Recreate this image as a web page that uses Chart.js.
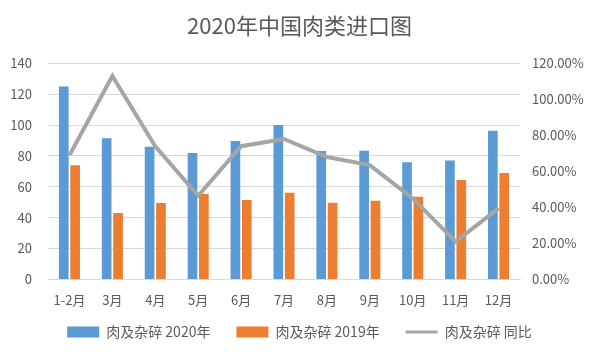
<!DOCTYPE html>
<html><head><meta charset="utf-8">
<script src="https://cdn.jsdelivr.net/npm/chart.js@4/dist/chart.umd.min.js"></script>
<style>html,body{margin:0;padding:0;background:#fff}#wrap{width:599px;height:359px;position:relative}</style>
</head><body><div id="wrap"><canvas id="c" width="599" height="359"></canvas></div>
<script>
const categories = ['1-2月','3月','4月','5月','6月','7月','8月','9月','10月','11月','12月'];
const meat2020 = [125, 91.5, 86, 82, 89.7, 100, 83.2, 83.4, 76, 77, 96.3];
const meat2019 = [74, 43, 49.5, 55.3, 51.4, 56.2, 49.7, 51, 53.6, 64.4, 69];
const yoyPct = [69, 113, 74, 46.5, 74, 78, 68, 63.5, 45, 21, 39.5];
const leftTicks = [0, 20, 40, 60, 80, 100, 120, 140];
const rightTicks = [0, 20, 40, 60, 80, 100, 120];
const legendOrder = ['肉及杂碎 2020年','肉及杂碎 2019年','肉及杂碎 同比'];

const font = "'Noto Sans CJK SC', 'Liberation Sans', sans-serif";
Chart.defaults.font.family = font;
Chart.defaults.color = '#595959';

new Chart(document.getElementById('c'), {
  data: {
    labels: categories,
    datasets: [
      {type:'line', label:'肉及杂碎 同比', data: yoyPct, yAxisID:'y1', borderColor:'#a5a5a5', backgroundColor:'#a5a5a5', borderWidth:4, pointRadius:0, tension:0, order:0},
      {type:'bar', label:'肉及杂碎 2020年', data: meat2020, yAxisID:'y', backgroundColor:'#5b9bd5', categoryPercentage:0.53, barPercentage:0.85, order:1},
      {type:'bar', label:'肉及杂碎 2019年', data: meat2019, yAxisID:'y', backgroundColor:'#ed7d31', categoryPercentage:0.53, barPercentage:0.85, order:2}
    ]
  },
  options: {
    responsive:false, animation:false,
    layout:{padding:{left:0,right:0,top:0,bottom:10}},
    plugins:{
      title:{display:true, text:'2020年中国肉类进口图', font:{size:22, weight:'normal', family:font}, color:'#595959', padding:{top:12,bottom:25}},
      tooltip:{enabled:false},
      legend:{position:'bottom',
        labels:{usePointStyle:true, pointStyleWidth:32, boxHeight:11, padding:12, font:{size:14}, color:'#595959',
          generateLabels:(chart)=>{
            const items = Chart.defaults.plugins.legend.labels.generateLabels(chart);
            items.forEach(it=>{ const ds = chart.data.datasets[it.datasetIndex];
              if(ds.type==='line'){it.pointStyle='line'; it.lineWidth=3; it.strokeStyle='#a5a5a5';}
              else {it.pointStyle='rect'; it.lineWidth=0; it.text = it.text + '\u3000';} });
            return items.sort((a,b)=>legendOrder.indexOf(a.text.trim())-legendOrder.indexOf(b.text.trim()));
          }}
      }
    },
    scales:{
      x:{grid:{display:false}, border:{display:true, color:'#d9d9d9'}, ticks:{font:{size:13}, color:'#595959', padding:5, maxRotation:0, autoSkip:false}},
      y:{position:'left', min:0, max:140, afterBuildTicks:(s)=>{s.ticks=leftTicks.map(v=>({value:v}));},
        grid:{color:'#d9d9d9', drawTicks:false}, border:{display:false},
        ticks:{font:{size:13}, color:'#595959', padding:16},
        afterFit:(s)=>{s.width=48;}},
      y1:{position:'right', min:0, max:120, afterBuildTicks:(s)=>{s.ticks=rightTicks.map(v=>({value:v}));},
        grid:{display:false, drawTicks:false}, border:{display:false},
        ticks:{font:{size:13}, color:'#595959', padding:12, callback:(v)=>v.toFixed(2)+'%'},
        afterFit:(s)=>{s.width=79;}}
    }
  }
});
</script></body></html>
